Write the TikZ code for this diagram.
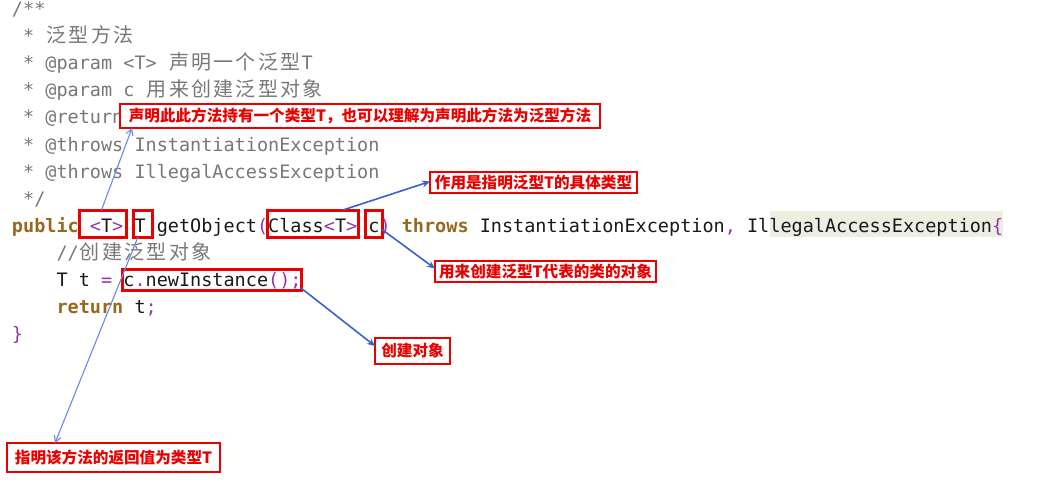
\documentclass[tikz,border=0pt]{standalone}
\usepackage{fontspec}
\usetikzlibrary{arrows.meta}
\newfontfamily\codefont{DejaVu Sans Mono}
\newfontfamily\cjkfont{Noto Sans CJK SC}
\definecolor{cgray}{RGB}{120,120,120}
\definecolor{kwcol}{RGB}{150,105,30}
\definecolor{pcol}{RGB}{150,55,165}
\definecolor{codeblack}{RGB}{25,25,25}
\definecolor{annred}{RGB}{235,0,0}
\definecolor{darkarrow}{RGB}{55,100,200}
\definecolor{lightarrow}{RGB}{105,140,220}
\definecolor{hlcol}{RGB}{238,237,226}
\makeatletter
\newcommand\cjm[1]{{\cjkfont\fontsize{20}{20}\selectfont\@tfor\cjx:=#1\do{\makebox[22.27pt]{\cjx}}}}
\makeatother
\newcommand\kwd[1]{{\bfseries\color{kwcol}#1}}
\newcommand\pct[1]{{\color{pcol}#1}}
\newcommand\cgr[1]{{\color{cgray}#1}}
\tikzset{
  code/.style={anchor=base west, inner sep=0pt, outer sep=0pt, text=codeblack,
    font=\codefont\fontsize{18.5}{18.5}\selectfont},
  rbox/.style={draw=annred, line width=3pt, inner sep=0pt, outer sep=0pt, fill=none},
  ann/.style={draw=annred, line width=2.8pt, fill=white, text=annred, inner sep=0pt, outer sep=0pt,
    font=\cjkfont\bfseries\fontsize{15.6}{15.6}\selectfont},
  darr/.style={draw=darkarrow, line width=1.6pt, -{Stealth[length=8pt,width=7pt]}},
  larr/.style={draw=lightarrow, line width=1.1pt, -{Straight Barb[length=6pt,width=7pt]}}
}
\begin{document}
\begin{tikzpicture}[x=1pt,y=-1pt]
\useasboundingbox (0,0) rectangle (1048,500);
\fill[white] (0,0) rectangle (1048,500);
% highlight
\fill[hlcol] (770,211) rectangle (1003,237);
% code lines
\node[code] (l0) at (12,16) {\cgr{/**}};
\node[code] (l1) at (23.135,43) {\cgr{* }\cgr{\cjm{泛型方法}}};
\node[code] (l2) at (23.135,70) {\cgr{* @param <T> }\cgr{\cjm{声明一个泛型}}\cgr{T}};
\node[code] (l3) at (23.135,97) {\cgr{* @param c }\cgr{\cjm{用来创建泛型对象}}};
\node[code] (l4) at (23.135,124) {\cgr{* @return}};
\node[code] (l5) at (23.135,151) {\cgr{* @throws InstantiationException}};
\node[code] (l6) at (23.135,178) {\cgr{* @throws IllegalAccessException}};
\node[code] (l7) at (23.135,205) {\cgr{*/}};
\node[code] (l8) at (12,232) {\kwd{public} \pct{<}T\pct{>} T getObject\pct{(}Class\pct{<}T\pct{>} c\pct{)} \kwd{throws} InstantiationException\pct{,} IllegalAccessException\pct{\{}};
\node[code] (l9) at (56.54,259) {\cgr{//}\cgr{\cjm{创建泛型对象}}};
\node[code] (l10) at (56.54,286) {T t \pct{=} c\pct{.}newInstance\pct{();}};
\node[code] (l11) at (56.54,313) {\kwd{return} t\pct{;}};
\node[code] (l12) at (12,340) {\pct{\}}};
% red boxes around code
\node[rbox, minimum width=47pt, minimum height=27pt] (bT) at (102.5,223.5) {};
\node[rbox, minimum width=19pt, minimum height=27pt] (bR) at (142.5,223.5) {};
\node[rbox, minimum width=91pt, minimum height=27pt] (bC) at (312.5,223.5) {};
\node[rbox, minimum width=17pt, minimum height=27pt] (bc) at (373.5,223.5) {};
\node[rbox, minimum width=179pt, minimum height=21pt] (bN) at (211.5,279.5) {};
% annotation boxes
\node[ann, minimum width=480pt, minimum height=24pt] (A) at (360,116) {声明此此方法持有一个类型T，也可以理解为声明此方法为泛型方法};
\node[ann, minimum width=207pt, minimum height=21pt] (B) at (533.5,182.5) {作用是指明泛型T的具体类型};
\node[ann, minimum width=221pt, minimum height=21pt] (C) at (545.5,271.5) {用来创建泛型T代表的类的对象};
\node[ann, minimum width=75pt, minimum height=26pt] (D) at (412.5,351) {创建对象};
\node[ann, minimum width=213pt, minimum height=29pt] (E) at (113.5,457.5) {指明该方法的返回值为类型T};
% connectors
\draw[larr] ([xshift=-1pt]bT.north) -- ([xshift=12pt]A.south west);
\draw[larr] ([xshift=-4.5pt]bR.south) -- ([xshift=-58.5pt]E.north);
\draw[darr] ([xshift=30.5pt]bC.north) -- ([yshift=1pt]B.west);
\draw[darr] ([yshift=-6pt]bc.east) -- ([yshift=3pt]C.west);
\draw[darr] ([yshift=2pt]bN.south east) -- ([yshift=5pt]D.west);
\end{tikzpicture}
\end{document}
